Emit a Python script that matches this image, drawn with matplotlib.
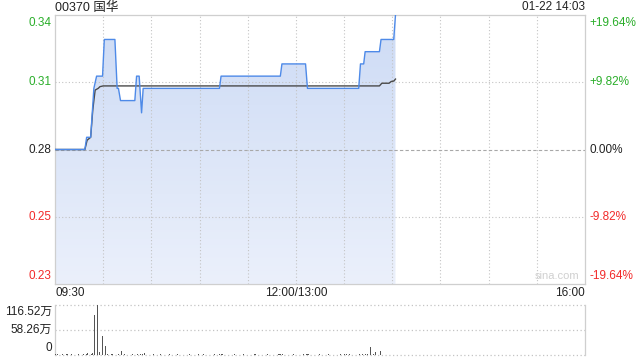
import numpy as np
import matplotlib
matplotlib.use("Agg")
import matplotlib.pyplot as plt
from matplotlib.colors import LinearSegmentedColormap

plt.rcParams['font.family'] = ['Liberation Sans', 'Noto Sans CJK SC', 'DejaVu Sans']

TITLE = "00370 国华"
STAMP = "01-22 14:03"
PREV_CLOSE = 0.280
Y_LO, Y_HI = 0.225, 0.335
SESSION_MIN = 330            # 09:30-12:00 + 13:00-16:00

# minutes since 09:30 / price (HKD)
price_t = [0, 18.6, 19.7, 22.2, 24.2, 25.9, 29.6, 30.7, 37.3, 38.7, 39.5, 40.8, 49.7, 50.8,
           52.4, 53.9, 54.9, 102.4, 103.4, 140.3, 141.3, 156.0, 157.2, 189.1, 190.2, 192.2,
           193.1, 202.0, 203.0, 210.9, 212.0]
price_p = [0.280, 0.280, 0.285, 0.285, 0.305, 0.310, 0.310, 0.325, 0.325, 0.305, 0.305, 0.300,
           0.300, 0.310, 0.310, 0.295, 0.305, 0.305, 0.310, 0.310, 0.315, 0.315, 0.305, 0.305,
           0.315, 0.315, 0.320, 0.320, 0.325, 0.325, 0.335]

avg_t = [0, 18.6, 20.0, 22.2, 23.5, 24.2, 25.0, 26.9, 28.0, 30.0, 202.0, 203.5, 208.0, 209.3, 211.0, 212.0]
avg_p = [0.280, 0.280, 0.2838, 0.2850, 0.2960, 0.3000, 0.3043, 0.3050, 0.3057, 0.3060, 0.3060,
         0.3071, 0.3071, 0.3078, 0.3080, 0.3088]

# volume per minute, 万股 (minutes 0..212)
volume = [
    3.0, 1.2, 0.0, 1.0, 1.4, 0.8, 0.0, 1.2, 1.0, 0.0, 1.5, 0.9, 0.0, 1.1, 1.3, 0.0, 1.0, 2.0, 0.8, 1.5,
    4.5, 0.0, 2.0, 4.0, 93.0, 0.0, 116.5, 6.5, 0.0, 43.5, 0.0, 20.0, 1.5, 1.0, 0.0, 1.2, 1.0, 0.9, 0.0, 1.4,
    1.0, 10.0, 0.0, 1.2, 1.0, 0.8, 1.1, 0.0, 1.3, 1.0, 0.9, 1.2, 0.0, 1.5, 2.0, 3.5, 1.0, 0.0, 1.1, 0.9,
    1.0, 1.2, 0.0, 1.0, 0.8, 1.3, 0.0, 1.0, 1.1, 0.9, 0.0, 1.2, 1.0, 1.0, 0.0, 0.9, 1.3, 1.0, 0.0, 1.1,
    1.0, 0.8, 0.0, 1.2, 1.0, 1.1, 0.0, 0.9, 1.0, 1.2, 0.0, 1.0, 1.3, 0.9, 0.0, 1.0, 1.1, 1.0, 0.0, 1.2,
    0.9, 1.0, 1.5, 2.5, 3.0, 1.0, 0.0, 1.1, 0.9, 1.0, 0.0, 1.2, 1.0, 0.8, 0.0, 1.1, 1.0, 1.2, 0.0, 0.9,
    1.0, 1.1, 0.0, 1.0, 1.2, 0.9, 0.0, 1.0, 1.1, 1.0, 0.0, 0.8, 1.2, 1.0, 0.0, 1.1, 0.9, 1.0, 0.0, 1.2,
    1.5, 2.0, 1.0, 0.0, 1.1, 1.0, 0.9, 0.0, 1.2, 1.0, 1.1, 0.0, 1.0, 0.9, 1.2, 0.0, 1.5, 1.8, 1.0, 0.0,
    1.1, 1.0, 0.9, 0.0, 1.2, 1.0, 1.1, 0.0, 1.0, 0.8, 1.2, 0.0, 1.0, 1.1, 0.9, 0.0, 1.0, 1.2, 1.0, 0.0,
    1.5, 2.5, 1.0, 1.2, 0.0, 1.1, 1.0, 0.9, 0.0, 1.2, 1.0, 1.2, 0.0, 1.5, 2.0, 1.0, 17.6, 0.0, 1.5, 8.0,
    0.0, 1.0, 10.0,
]
VOL_MAX = 116.52

GREEN, RED, BLACK = "#2aae2a", "#f22a2a", "#222222"
BORDER = "#cfcfcf"
GRID = "#c4c4c4"

fig = plt.figure(figsize=(6.4, 3.6), dpi=100)
W, H = 640, 360
ax = fig.add_axes([55 / W, 1 - 284 / H, 530 / W, 269 / H])
ax.set_xlim(0, SESSION_MIN); ax.set_ylim(Y_LO, Y_HI)
ax.set_xticks([]); ax.set_yticks([])
for s in ax.spines.values():
    s.set_color(BORDER); s.set_linewidth(0.9)

for t in range(30, SESSION_MIN, 30):
    ax.axvline(t, color=GRID, ls=(0, (1, 2)), lw=0.8, zorder=3)
mid_hi = (Y_HI + PREV_CLOSE) / 2; mid_lo = (Y_LO + PREV_CLOSE) / 2
for y in (mid_hi, mid_lo):
    ax.axhline(y, color=GRID, ls=(0, (1, 2)), lw=0.8, zorder=3)
ax.axhline(PREV_CLOSE, color="#a8a8a8", ls=(0, (3, 2)), lw=0.8, zorder=3)

# gradient area under the price line
poly = ax.fill_between(price_t, price_p, Y_LO, color="none", lw=0)
cmap = LinearSegmentedColormap.from_list("fill", ["#ebf0fb", "#cddbf5"])
grad = np.linspace(0, 1, 256).reshape(-1, 1)
im = ax.imshow(grad, cmap=cmap, aspect="auto", origin="lower",
               extent=[0, SESSION_MIN, Y_LO, Y_HI], zorder=2)
im.set_clip_path(poly.get_paths()[0], transform=ax.transData)

ax.plot(price_t, price_p, color="#4e8ae8", lw=1.0, zorder=5)
ax.plot(avg_t, avg_p, color="#4a4a4a", lw=1.0, zorder=4)

ytr = ax.get_yaxis_transform()
levels = [Y_HI, mid_hi, PREV_CLOSE, mid_lo, Y_LO]
cols = [GREEN, GREEN, BLACK, RED, RED]
vas = ["top", "center", "center", "center", "bottom"]
for y, c, va in zip(levels, cols, vas):
    pct = (y - PREV_CLOSE) / PREV_CLOSE * 100
    yy = y - 0.0008 if va == "top" else (y + 0.0008 if va == "bottom" else y)
    ax.text(-0.006, yy, f"{y:.2f}", transform=ytr, ha="right", va=va, fontsize=8.5, color=c)
    lab = "0.00%" if abs(pct) < 1e-9 else f"{pct:+.2f}%"
    ax.text(1.009, yy, lab, transform=ytr, ha="left", va=va, fontsize=8.5, color=c)

ax.text(0, 1.0 + 7.5 / 269, TITLE, transform=ax.transAxes, ha="left", va="center", fontsize=9, color=BLACK)
ax.text(1, 1.0 + 7.5 / 269, STAMP, transform=ax.transAxes, ha="right", va="center", fontsize=8.5, color=BLACK)
ax.text(0.99, 0.012, "sina.com", transform=ax.transAxes, ha="right", va="bottom",
        fontsize=8, color="#d0d0d0")

xtr = ax.get_xaxis_transform()
ty = -9.5 / 269
ax.text(0, ty, "09:30", transform=xtr, ha="left", va="center", fontsize=8.5, color=BLACK)
ax.text(150, ty, "12:00/13:00", transform=xtr, ha="center", va="center", fontsize=8.5, color=BLACK)
ax.text(SESSION_MIN, ty, "16:00", transform=xtr, ha="right", va="center", fontsize=8.5, color=BLACK)

# volume panel
vx = fig.add_axes([55 / W, 1 - 355 / H, 530 / W, 50 / H])
vx.set_xlim(0, SESSION_MIN); vx.set_ylim(0, VOL_MAX)
vx.set_xticks([]); vx.set_yticks([])
for k, s in vx.spines.items():
    s.set_color(BORDER); s.set_linewidth(0.9)
    if k in ("top", "bottom"):
        s.set_visible(False)
for y in (VOL_MAX, VOL_MAX / 2, 0):
    vx.axhline(y, color=GRID, ls=(0, (1, 2)), lw=0.9, zorder=1, clip_on=False)
vx.bar(np.arange(len(volume)) + 0.5, volume, width=0.7, color="#555555", lw=0, zorder=3)
vtr = vx.get_yaxis_transform()
for y, lab, va in ((VOL_MAX - 2, f"{VOL_MAX:.2f}万", "top"),
                   (VOL_MAX / 2, f"{VOL_MAX / 2:.2f}万", "center"),
                   (3, "0", "bottom")):
    vx.text(-0.006, y, lab, transform=vtr, ha="right", va=va, fontsize=8.5, color=BLACK)

fig.savefig("out.png", dpi=100)
